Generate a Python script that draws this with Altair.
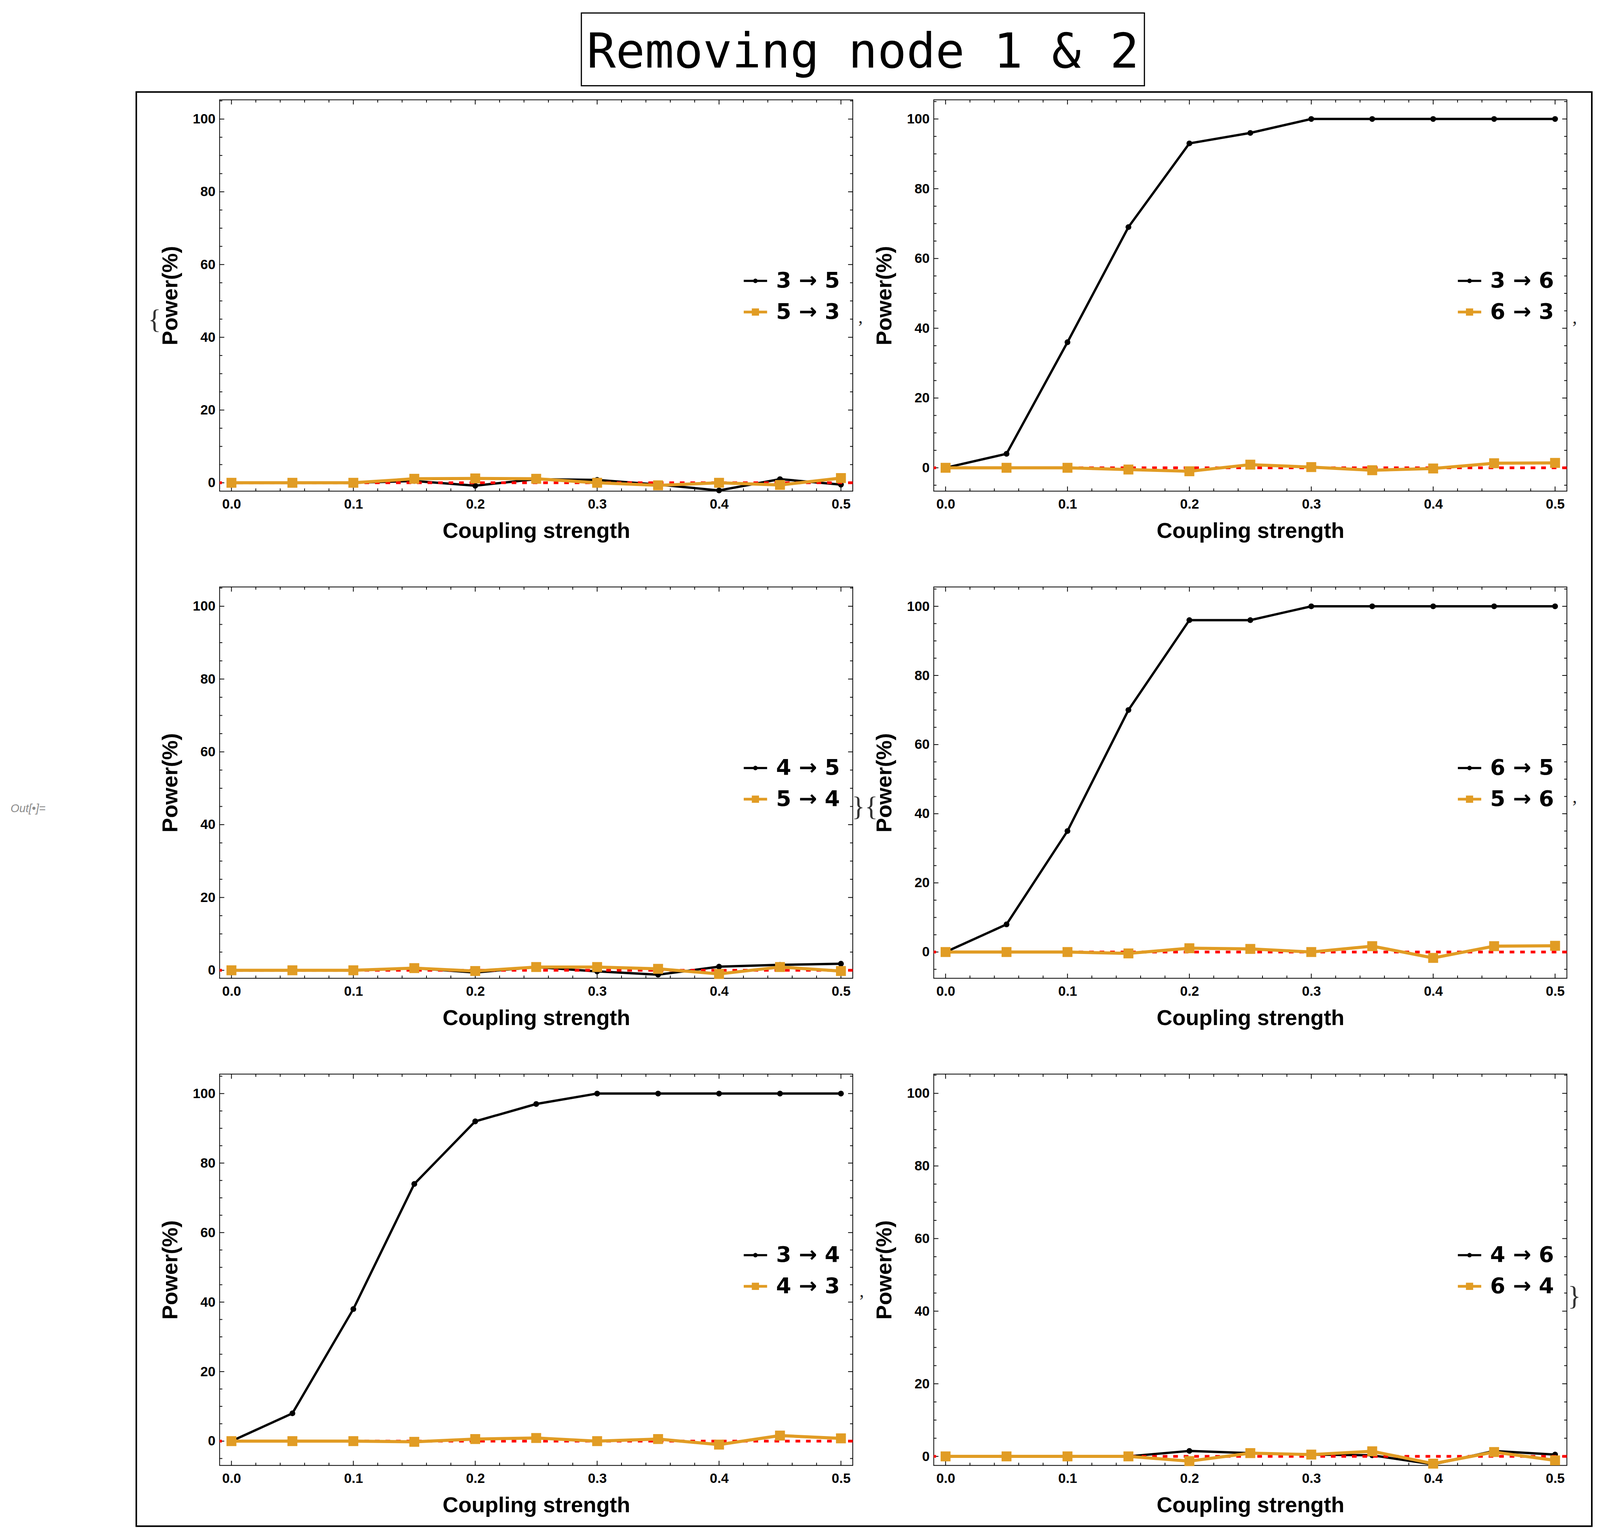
import altair as alt
import pandas as pd

# ---------------- data ----------------
coupling = [0.0, 0.05, 0.1, 0.15, 0.2, 0.25, 0.3, 0.35, 0.4, 0.45, 0.5]

p1_labels = ["3 → 5", "5 → 3"]
p1_black = [0, 0, 0, 0.5, -0.8, 1.0, 0.8, -0.5, -2.1, 1.0, -0.5]
p1_orange = [0, 0, 0, 1.1, 1.2, 1.1, 0, -0.7, 0, -0.6, 1.3]
p1_ydomain = [-2.3, 105.3]

p2_labels = ["3 → 6", "6 → 3"]
p2_black = [0, 4, 36, 69, 93, 96, 100, 100, 100, 100, 100]
p2_orange = [0, 0, 0, -0.5, -1.0, 0.9, 0.2, -0.7, -0.2, 1.3, 1.4]
p2_ydomain = [-6.7, 105.5]

p3_labels = ["4 → 5", "5 → 4"]
p3_black = [0, 0, 0, 0.6, -0.6, 0.9, -0.3, -1.2, 1.0, 1.5, 1.8]
p3_orange = [0, 0, 0, 0.6, -0.2, 0.9, 0.9, 0.4, -1.0, 0.9, -0.2]
p3_ydomain = [-2.2, 105.3]

p4_labels = ["6 → 5", "5 → 6"]
p4_black = [0, 8, 35, 70, 96, 96, 100, 100, 100, 100, 100]
p4_orange = [0, 0, 0, -0.4, 1.1, 0.9, 0, 1.7, -1.7, 1.7, 1.8]
p4_ydomain = [-7.6, 105.6]

p5_labels = ["3 → 4", "4 → 3"]
p5_black = [0, 8, 38, 74, 92, 97, 100, 100, 100, 100, 100]
p5_orange = [0, 0, 0, -0.2, 0.6, 0.9, 0, 0.6, -1.0, 1.6, 0.8]
p5_ydomain = [-7.0, 105.6]

p6_labels = ["4 → 6", "6 → 4"]
p6_black = [0, 0, 0, 0, 1.5, 0.9, 0.5, 0.3, -2.2, 1.5, 0.5]
p6_orange = [0, 0, 0, 0, -1.3, 0.9, 0.5, 1.4, -2.0, 1.2, -1.1]
p6_ydomain = [-2.5, 105.3]

x_domain = [-0.0097, 0.5097]
x_label_values = [0.0, 0.1, 0.2, 0.3, 0.4, 0.5]
x_minor_values = [0.02, 0.04, 0.06, 0.08, 0.12, 0.14, 0.16, 0.18, 0.22, 0.24,
                  0.26, 0.28, 0.32, 0.34, 0.36, 0.38, 0.42, 0.44, 0.46, 0.48]
y_label_values = [0, 20, 40, 60, 80, 100]
y_minor_values = [-5, 5, 10, 15, 25, 30, 35, 45, 50, 55, 65, 70, 75, 85, 90, 95, 105]
zero_level = [0]

title_text = "Removing node 1 & 2"

# ---------------- style ----------------
BLACK = "#000000"
ORANGE = "#E19C24"
SANS = "Liberation Sans, Arial, Helvetica, sans-serif"
LEGFONT = "DejaVu Sans, Liberation Sans, sans-serif"
SERIF = "Liberation Serif, Times New Roman, serif"
MONO = "DejaVu Sans Mono, monospace"
W, H = 1626, 1005
MAJ, MIN = 12, 7

PATH_DOT = ("M-1,-0.09H1V0.09H-1Z "
            "M-0.19,0A0.19,0.19 0 1,1 0.19,0A0.19,0.19 0 1,1 -0.19,0Z")
PATH_SQ = ("M-1,-0.12H1V0.12H-1Z "
           "M-0.31,-0.31H0.31V0.31H-0.31Z")


def text_layer(txt, x, y, **mk):
    return alt.Chart(pd.DataFrame({"t": [txt]})).mark_text(**mk).encode(
        x=alt.value(x), y=alt.value(y), text="t:N")


def box_layer(x1, x2, y1, y2, sw):
    return alt.Chart(pd.DataFrame({"d": [0]})).mark_rect(
        filled=False, color="black", stroke="black", strokeWidth=sw).encode(
        x=alt.value(x1), x2=alt.value(x2), y=alt.value(y1), y2=alt.value(y2))


def anchor_layer(x1, x2, y1, y2):
    # invisible element that fixes the top edge of the drawing
    return alt.Chart(pd.DataFrame({"d": [0]})).mark_rect(opacity=0).encode(
        x=alt.value(x1), x2=alt.value(x2), y=alt.value(y1), y2=alt.value(y2))


def brace(txt, x, y):
    return text_layer(txt, x, y, font=SERIF, fontSize=70, color="#333333",
                      align="center", baseline="middle")


def comma(x, y):
    return text_layer(",", x, y, font=SERIF, fontSize=46, color="#222222",
                      align="center", baseline="alphabetic")


def panel(labels, black, orange, ydom, decor):
    xs = alt.Scale(domain=x_domain, nice=False, zero=False)
    ys = alt.Scale(domain=ydom, nice=False, zero=False)
    xaxis = alt.Axis(values=x_label_values, format=".1f", ticks=False, domain=False,
                     grid=False, labelFont=SANS, labelFontSize=35, labelFontWeight="bold",
                     labelColor="black", labelPadding=16, labelFlush=False,
                     labelOverlap=False, title="Coupling strength", titleFont=SANS,
                     titleFontSize=56, titleFontWeight="bold", titleColor="black",
                     titlePadding=25)
    yaxis = alt.Axis(values=y_label_values, format="d", ticks=False, domain=False,
                     grid=False, labelFont=SANS, labelFontSize=35, labelFontWeight="bold",
                     labelColor="black", labelPadding=11, labelFlush=False,
                     labelOverlap=False, title="Power(%)", titleFont=SANS,
                     titleFontSize=56, titleFontWeight="bold", titleColor="black",
                     titlePadding=28)

    def X(f):
        return alt.X(f, type="quantitative", scale=xs, axis=xaxis)

    def Y(f):
        return alt.Y(f, type="quantitative", scale=ys, axis=yaxis)

    dfb = pd.DataFrame({"coupling": coupling, "power": black})
    dfo = pd.DataFrame({"coupling": coupling, "power": orange})

    layers = []
    layers.append(alt.Chart(dfb).mark_line(color=BLACK, strokeWidth=6).encode(
        x=X("coupling"), y=Y("power")))

    # inward frame ticks on all four sides
    yminor = [v for v in y_minor_values if ydom[0] < v < ydom[1]]
    for vals, ln in ((x_label_values, MAJ), (x_minor_values, MIN)):
        d = pd.DataFrame({"v": vals})
        layers.append(alt.Chart(d).mark_rule(color="black", strokeWidth=2).encode(
            x=X("v"), y=alt.value(H), y2=alt.value(H - ln)))
        layers.append(alt.Chart(d).mark_rule(color="black", strokeWidth=2).encode(
            x=X("v"), y=alt.value(0), y2=alt.value(ln)))
    for vals, ln in ((y_label_values, MAJ), (yminor, MIN)):
        d = pd.DataFrame({"v": vals})
        layers.append(alt.Chart(d).mark_rule(color="black", strokeWidth=2).encode(
            y=Y("v"), x=alt.value(0), x2=alt.value(ln)))
        layers.append(alt.Chart(d).mark_rule(color="black", strokeWidth=2).encode(
            y=Y("v"), x=alt.value(W), x2=alt.value(W - ln)))

    # legend layer (its own markers are 1px specks hidden under the first points)
    leg_df = pd.DataFrame({"series": labels, "coupling": [0.0, 0.0], "power": [0.0, 0.0]})
    legend = alt.Legend(orient="none", legendX=1346, legendY=435, title=None,
                        labelFont=LEGFONT, labelFontSize=56, labelFontWeight="bold",
                        labelColor="black", symbolSize=3600, symbolStrokeWidth=0,
                        symbolOpacity=1, labelOffset=23, rowPadding=22, padding=0,
                        labelLimit=0)
    layers.append(alt.Chart(leg_df).mark_point(filled=True, size=1).encode(
        x=X("coupling"), y=Y("power"),
        color=alt.Color("series:N", scale=alt.Scale(domain=labels, range=[BLACK, ORANGE]),
                        legend=legend),
        shape=alt.Shape("series:N", scale=alt.Scale(domain=labels, range=[PATH_DOT, PATH_SQ]),
                        legend=legend),
    ))

    layers.append(alt.Chart(dfb).mark_point(filled=True, shape="circle", size=220,
                                            color=BLACK, opacity=1).encode(
        x=X("coupling"), y=Y("power")))
    layers.append(alt.Chart(pd.DataFrame({"power": zero_level})).mark_rule(
        color="#FF0000", strokeWidth=7, strokeDash=[12, 15]).encode(y=Y("power")))
    layers.append(alt.Chart(dfo).mark_line(color=ORANGE, strokeWidth=8).encode(
        x=X("coupling"), y=Y("power")))
    layers.append(alt.Chart(dfo).mark_square(size=650, color=ORANGE, opacity=1).encode(
        x=X("coupling"), y=Y("power")))

    layers.extend(decor)
    return alt.layer(*layers).properties(
        width=W, height=H,
        view=alt.ViewBackground(stroke="black", strokeWidth=2))


p1_decor = [
    anchor_layer(900, 920, -241, -235),
    box_layer(-214, 3524, -20, 3663, 4),
    box_layer(929, 2375, -223, -36, 3),
    text_layer(title_text, 1652, -83, font=MONO, fontSize=124, color="black",
               align="center", baseline="alphabetic"),
    brace("{", -167, 566),
    comma(1646, 573),
]
p2_decor = [comma(1646, 574)]
p3_decor = [
    brace("}{", 1657, 566),
    text_layer("Out[•]=", -537, 569, font=SANS, fontSize=29, fontStyle="italic",
               color="#8c8c8c", align="left", baseline="middle"),
]
p4_decor = [comma(1646, 554)]
p5_decor = [comma(1649, 572)]
p6_decor = [brace("}", 1645, 572)]

P1 = panel(p1_labels, p1_black, p1_orange, p1_ydomain, p1_decor)
P2 = panel(p2_labels, p2_black, p2_orange, p2_ydomain, p2_decor)
P3 = panel(p3_labels, p3_black, p3_orange, p3_ydomain, p3_decor)
P4 = panel(p4_labels, p4_black, p4_orange, p4_ydomain, p4_decor)
P5 = panel(p5_labels, p5_black, p5_orange, p5_ydomain, p5_decor)
P6 = panel(p6_labels, p6_black, p6_orange, p6_ydomain, p6_decor)

chart = alt.concat(
    P1, P2, P3, P4, P5, P6,
    columns=2, spacing={"row": 246, "column": 208}, bounds="flush",
).resolve_scale(
    x="independent", y="independent", color="independent", shape="independent"
).resolve_legend(
    color="independent", shape="independent"
).properties(
    padding={"left": 18, "top": 0, "right": 10, "bottom": 10},
    background="white",
).configure_view(stroke=None)

chart.save("out.html", embed_options={"renderer": "svg", "actions": False})
